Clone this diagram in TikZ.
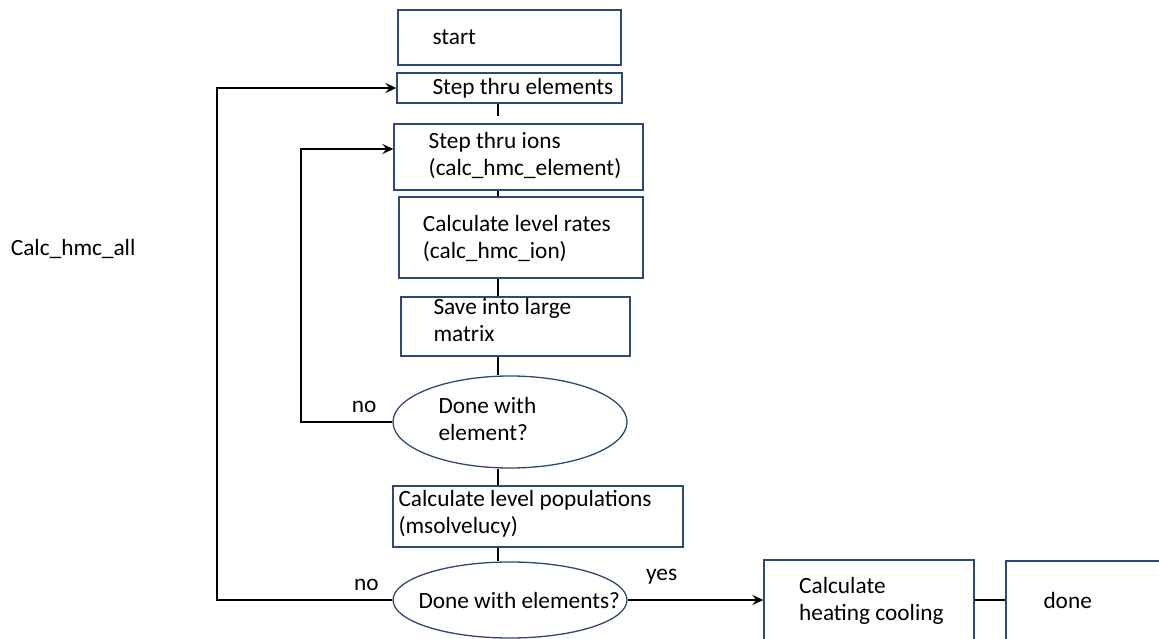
\documentclass[tikz,border=0pt]{standalone}
\usepackage{fontspec}
\setmainfont{Carlito}
\usetikzlibrary{arrows.meta,shapes.geometric}
\definecolor{boxline}{RGB}{47,72,115}
\tikzset{
  x=1pt, y=-1pt,
  stepbox/.style={draw=boxline, line width=1.3pt, rectangle, inner sep=0pt},
  decision/.style={draw=boxline, line width=1.3pt, ellipse, inner sep=0pt},
  % base anchor of a multi-line text sits on its last line
  txt/.style={inner sep=0pt, anchor=base west, align=left, font=\fontsize{23.3}{27}\selectfont},
  conn/.style={line width=2.2pt, black},
  arrowconn/.style={conn, -{Stealth[length=11pt, width=10pt, inset=4pt]}},
}
% rectangle given by its corners (x1,y1) and (x2,y2)
\newcommand{\boxat}[5]{%
  \node[stepbox, minimum width={(#4-#2)*1pt}, minimum height={(#5-#3)*1pt}]
    (#1) at ({(#2+#4)/2},{(#3+#5)/2}) {};}
\begin{document}
\begin{tikzpicture}
\useasboundingbox (0,0) rectangle (1159,639);
\clip (0,0) rectangle (1159,639);

% process boxes
\boxat{bstart}{398}{10}{621}{65}
\boxat{belem}{397}{73}{622}{103}
\boxat{bions}{394}{124}{643}{190}
\boxat{brates}{399}{197}{643}{278}
\boxat{bsave}{401}{297}{630}{356}
\boxat{bpop}{393}{486}{683}{547}
\boxat{bheat}{764}{560}{974}{680}
\boxat{bdone}{1006}{561}{1190}{680}

% decisions
\node[decision, minimum width=234pt, minimum height=92pt] (delem) at (510,422) {};
\node[decision, minimum width=234pt, minimum height=76pt] (delems) at (510,600) {};

% texts
\node[txt] (tstart) at (432.3,44.3) {start};
\node[txt] (telem) at (432.3,94.3) {Step thru elements};
\node[txt] (tions) at (428.5,175.3) {Step thru ions\\(calc\_hmc\_element)};
\node[txt] (trates) at (422.7,258.5) {Calculate level rates\\(calc\_hmc\_ion)};
\node[txt] (tsave) at (433.3,341.7) {Save into large\\matrix};
\node[txt] (tdelem) at (438.3,440) {Done with\\element?};
\node[txt] (tpop) at (398.3,533) {Calculate level populations\\(msolvelucy)};
\node[txt] (tdelems) at (418.3,608.3) {Done with elements?};
\node[txt] (theat) at (799,620) {Calculate\\heating cooling};
\node[txt] (tdone) at (1043.3,608.3) {done};
\node[txt] (tyes) at (646,580) {yes};
\node[txt] (tno1) at (351.7,412.7) {no};
\node[txt] (tno2) at (354,590) {no};
\node[txt] (tall) at (10.7,255) {Calc\_hmc\_all};

% main column connectors
\coordinate (col) at (498,0);
\draw[conn] (belem.south -| col) -- ([yshift=7pt]bions.north -| col);
\draw[conn] (bions.south -| col) -- (brates.north -| col);
\draw[conn] (brates.south -| col) -- (bsave.north -| col);
\draw[conn] (bsave.south -| col) -- (delem.north -| col);
\draw[conn] (delem.south -| col) -- (bpop.north -| col);
\draw[conn] (bpop.south -| col) -- (delems.north -| col);

% loops back
\draw[arrowconn] (delem.west) -- ++(-91,0) |- ([yshift=8pt]bions.west);
\draw[arrowconn] (delems.west) -- ++(-175,0) |- (belem.west);

% exit path
\draw[arrowconn] (delems.east) -- (bheat.west |- delems.east);
\draw[conn] (bheat.east |- delems.east) -- (bdone.west |- delems.east);
\end{tikzpicture}
\end{document}
